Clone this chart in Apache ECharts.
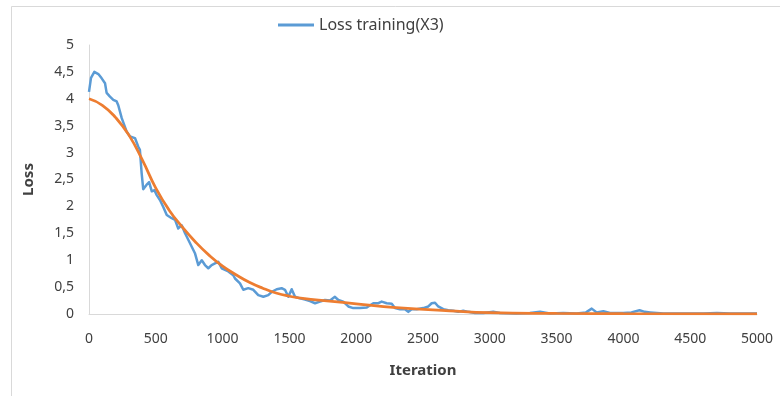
<!DOCTYPE html>
<html><head><meta charset="utf-8">
<script src="https://cdn.jsdelivr.net/npm/echarts@6/dist/echarts.min.js"></script>
<style>html,body{margin:0;padding:0;background:#fff}#c{width:780px;height:396px}</style>
</head><body><div id="c"></div>
<script>
const seriesName = 'Loss training(X3)';
const xTicks = [0,500,1000,1500,2000,2500,3000,3500,4000,4500,5000];
const iterBlue = [0,15,40,70,95,120,132,157,182,207,219,245,282,307,344,369,381,394,406,430,450,470,490,507,531,556,582,619,644,668,694,719,743,769,793,818,844,868,893,918,943,968,993,1018,1043,1080,1093,1130,1155,1192,1230,1267,1305,1342,1368,1405,1442,1467,1492,1517,1542,1579,1617,1654,1692,1729,1766,1804,1841,1866,1903,1941,1978,2028,2079,2128,2166,2191,2228,2266,2290,2328,2365,2390,2415,2453,2502,2540,2565,2590,2614,2652,2689,2727,2764,2801,2839,2889,2951,3026,3076,3200,3300,3376,3450,3550,3650,3720,3763,3800,3850,3900,4000,4060,4121,4160,4200,4300,4450,4600,4700,4800,4900,5000];
const lossBlue = [4.13,4.39,4.50,4.46,4.38,4.29,4.11,4.04,3.98,3.95,3.88,3.64,3.39,3.30,3.27,3.11,3.05,2.62,2.32,2.40,2.45,2.28,2.30,2.21,2.12,1.99,1.84,1.78,1.75,1.59,1.65,1.50,1.38,1.25,1.13,0.91,1.00,0.91,0.85,0.91,0.94,0.97,0.85,0.82,0.79,0.72,0.66,0.57,0.45,0.48,0.45,0.35,0.32,0.35,0.41,0.46,0.48,0.45,0.32,0.46,0.32,0.29,0.27,0.24,0.20,0.23,0.26,0.25,0.32,0.26,0.23,0.14,0.11,0.11,0.12,0.20,0.20,0.23,0.20,0.19,0.11,0.09,0.09,0.04,0.09,0.09,0.11,0.14,0.20,0.21,0.14,0.09,0.07,0.06,0.04,0.06,0.04,0.02,0.02,0.04,0.02,0.01,0.02,0.04,0.01,0.02,0.01,0.03,0.10,0.03,0.05,0.02,0.02,0.03,0.07,0.04,0.03,0.01,0.01,0.01,0.02,0.01,0.01,0.01];
const iterTrend = [0,100,200,300,400,500,600,700,800,900,1000,1100,1200,1300,1400,1500,1600,1800,2000,2300,2700,3000,3500,4000,5000];
const lossTrend = [4.00,3.88,3.65,3.32,2.86,2.34,1.93,1.61,1.33,1.09,0.89,0.73,0.59,0.48,0.39,0.33,0.29,0.24,0.19,0.12,0.06,0.025,0.01,0.005,0.002];

const blueData = iterBlue.map((x,i)=>[x,lossBlue[i]]);
const trendData = iterTrend.map((x,i)=>[x,lossTrend[i]]);
const chart = echarts.init(document.getElementById('c'), null, {renderer:'canvas'});
const font = 'Noto Sans';
chart.setOption({
  animation:false,
  backgroundColor:'#fff',
  textStyle:{fontFamily:font},
  legend:{
    top:12, left:273, data:[seriesName], itemWidth:36, itemHeight:3, itemGap:4,
    icon:'rect',
    textStyle:{fontSize:16, color:'#404040', fontFamily:font}
  },
  grid:{left:89, right:23, top:45, bottom:82},
  xAxis:{
    type:'value', min:0, max:5000, interval:500,
    name:'Iteration', nameLocation:'middle', nameGap:49,
    nameTextStyle:{fontSize:15, fontWeight:'bold', color:'#404040', fontFamily:font},
    axisLine:{show:true, lineStyle:{color:'#d9d9d9', width:1}},
    axisTick:{show:false},
    splitLine:{show:false},
    axisLabel:{fontSize:14, color:'#404040', margin:18, fontFamily:font,
      formatter:v=>String(v)}
  },
  yAxis:{
    type:'value', min:0, max:5, interval:0.5,
    name:'Loss', nameLocation:'middle', nameGap:53, nameRotate:90,
    nameTextStyle:{fontSize:15, fontWeight:'bold', color:'#404040', fontFamily:font},
    axisLine:{show:true, lineStyle:{color:'#d9d9d9', width:1}},
    axisTick:{show:false},
    splitLine:{show:false},
    axisLabel:{fontSize:14, color:'#404040', margin:15, fontFamily:font,
      formatter:v=>String(v).replace('.',',')}
  },
  graphic:[
    {type:'line', shape:{x1:11.5,y1:6.5,x2:780,y2:6.5}, style:{stroke:'#d9d9d9', lineWidth:1}},
    {type:'line', shape:{x1:11.5,y1:6.5,x2:11.5,y2:396}, style:{stroke:'#d9d9d9', lineWidth:1}}
  ],
  series:[
    {name:seriesName, type:'line', data:blueData, showSymbol:false, smooth:false,
      lineStyle:{color:'#5B9BD5', width:2.5, join:'round'}, itemStyle:{color:'#5B9BD5'}, z:2},
    {name:'trend', type:'line', data:trendData, showSymbol:false, smooth:true,
      lineStyle:{color:'#ED7D31', width:2.75}, itemStyle:{color:'#ED7D31'}, z:3}
  ]
});
</script></body></html>
